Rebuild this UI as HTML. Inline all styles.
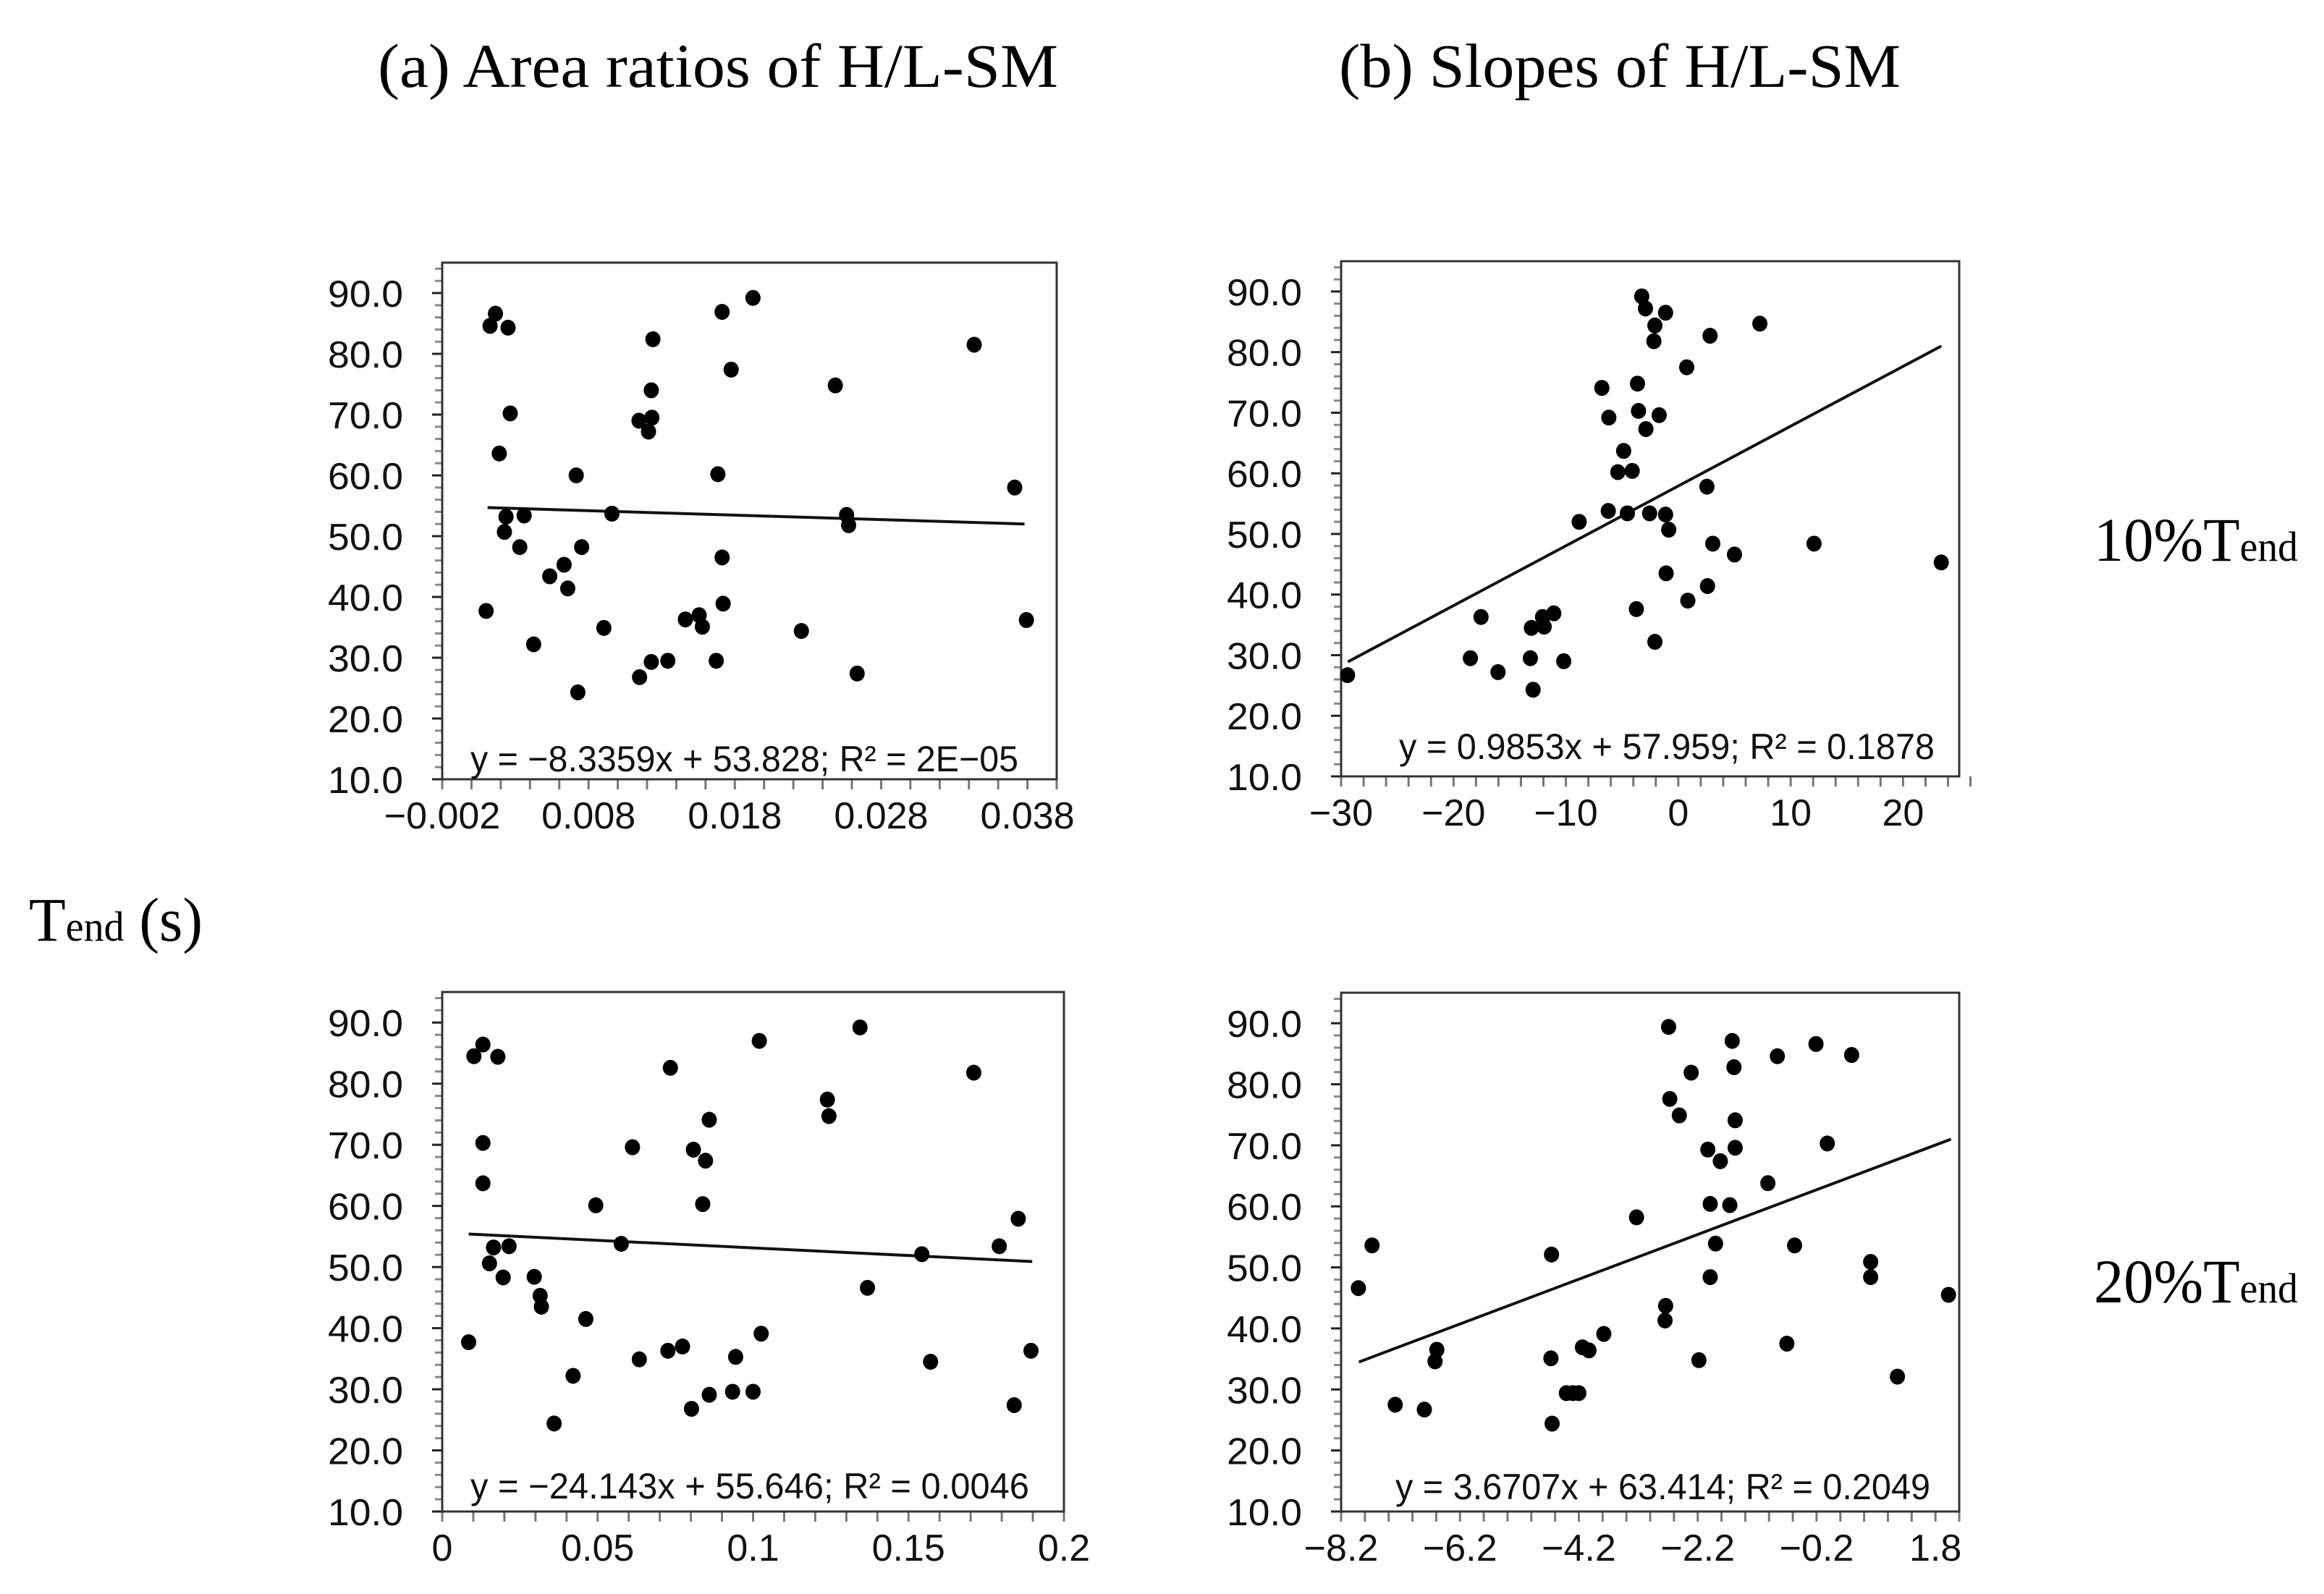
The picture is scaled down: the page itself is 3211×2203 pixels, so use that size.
<!DOCTYPE html>
<html><head><meta charset="utf-8"><style>
html,body{margin:0;padding:0;background:#fff}
svg{display:block}
.tick{font-family:"Liberation Sans Narrow","Liberation Sans",sans-serif;font-size:52px;fill:#111}
.eq{font-family:"Liberation Sans Narrow","Liberation Sans",sans-serif;font-size:50px;fill:#111}
.ser{font-family:"Liberation Serif",serif;fill:#000}
</style></head><body>
<svg id="fig" width="3211" height="2203" viewBox="0 0 3211 2203" xmlns="http://www.w3.org/2000/svg">
<rect width="3211" height="2203" fill="#fff"/>
<text class="ser" x="522" y="120" font-size="86" textLength="940" lengthAdjust="spacingAndGlyphs">(a) Area ratios of H/L-SM</text>
<text class="ser" x="1850" y="120" font-size="86" textLength="776" lengthAdjust="spacingAndGlyphs">(b) Slopes of H/L-SM</text>
<text class="ser" x="2893" y="775" font-size="86" textLength="282" lengthAdjust="spacingAndGlyphs">10%T<tspan font-size="58">end</tspan></text>
<text class="ser" x="2893" y="1800" font-size="86" textLength="282" lengthAdjust="spacingAndGlyphs">20%T<tspan font-size="58">end</tspan></text>
<text class="ser" x="40" y="1300" font-size="86" textLength="240" lengthAdjust="spacingAndGlyphs">T<tspan font-size="58">end</tspan> (s)</text>
</svg>
<script>
// Panel A (top-left)
const aX=[0.00164,0.00127,0.0025,0.00265,0.0019,0.00716,0.00236,0.0036,0.00225,0.0033,0.00753,0.00535,0.00633,0.00658,0.001,0.00425,0.00727,0.00905,0.0096,0.01145,0.01233,0.0121,0.01229,0.0124,0.01149,0.01229,0.01342,0.01462,0.01556,0.01578,0.01673,0.01684,0.01713,0.01713,0.0172,0.01775,0.01924,0.02255,0.02487,0.02564,0.02578,0.02636,0.03436,0.03713,0.03793];
const aY=[86.6,84.6,84.3,70.2,63.6,60.0,53.2,53.4,50.7,48.2,48.2,43.4,45.3,41.4,37.7,32.2,24.3,34.9,53.7,69.0,69.5,67.2,74.0,82.4,26.8,29.3,29.5,36.3,37.0,35.1,29.5,60.2,86.9,46.5,38.9,77.4,89.2,34.4,74.8,53.5,51.8,27.4,81.5,58.0,36.2];
const aTrendX=[0.0011,0.0378];
const aTrendY=[54.7,52.0];
const aXTicks=["−0.002","0.008","0.018","0.028","0.038"];
const aXTickVals=[-0.002,0.008,0.018,0.028,0.038];
// Panel B (top-right)
const bX=[-3.25,-2.92,-1.13,-2.08,2.83,7.26,-2.17,0.75,-6.8,-3.63,-3.54,-1.7,-6.18,-2.88,-4.86,-5.38,-4.1,2.55,-6.23,-4.53,-2.55,-1.13,-8.82,-0.85,3.07,5.0,12.08,23.4,-1.08,2.6,0.85,-3.73,-17.55,-11.08,-12.08,-11.93,-13.07,-2.08,-18.5,-13.16,-10.19,-16.04,-29.43,-12.92];
const bY=[89.2,87.2,86.5,84.4,82.7,84.7,81.8,77.5,74.1,74.8,70.3,69.6,69.2,67.3,63.7,60.2,60.4,57.8,53.8,53.4,53.4,53.2,52.0,50.7,48.4,46.6,48.4,45.3,43.5,41.4,39.0,37.6,36.3,36.9,36.3,34.7,34.5,32.2,29.5,29.5,29.0,27.2,26.7,24.3];
const bTrendX=[-29.4,23.4];
const bTrendY=[28.9,81.0];
const bXTicks=["−30","−20","−10","0","10","20"];
const bXTickVals=[-30,-20,-10,0,10,20];
// Panel C (bottom-left)
const cX=[0.0102,0.0131,0.0179,0.0131,0.0131,0.0494,0.0165,0.0215,0.0152,0.0196,0.0296,0.0315,0.0319,0.0462,0.0085,0.0421,0.036,0.0576,0.0612,0.0634,0.0734,0.0726,0.0773,0.0808,0.0847,0.0838,0.0859,0.0802,0.0859,0.0934,0.0944,0.1,0.102,0.1026,0.1239,0.1244,0.1344,0.1368,0.1543,0.1571,0.171,0.1792,0.1853,0.184,0.1894];
const cY=[84.5,86.4,84.4,70.3,63.7,60.1,53.2,53.4,50.6,48.3,48.4,45.3,43.5,41.5,37.7,32.2,24.4,53.8,69.6,34.9,82.6,36.3,37.0,69.2,67.4,60.3,74.1,26.8,29.1,29.6,35.3,29.6,87.0,39.1,77.4,74.7,89.2,46.6,52.1,34.5,81.8,53.4,57.9,27.4,36.3];
const cTrendX=[0.0085,0.1898];
const cTrendY=[55.4,50.9];
const cXTicks=["0","0.05","0.1","0.15","0.2"];
const cXTickVals=[0,0.05,0.1,0.15,0.2];
// Panel D (bottom-right)
const dX=[-7.91,-7.68,-7.29,-6.8,-6.59,-6.62,-4.66,-4.67,-4.65,-4.41,-4.3,-4.2,-4.14,-4.03,-3.78,-3.23,-2.69,-2.67,-2.51,-2.31,-2.74,-2.75,-2.18,-2.03,-1.82,-1.99,-1.66,-1.9,-1.99,-1.62,-1.59,-1.57,-1.57,-1.02,-0.86,-0.7,-0.57,-0.21,-0.02,0.39,0.71,0.71,1.16,2.02];
const dY=[46.6,53.6,27.5,26.7,36.5,34.6,52.1,35.1,24.4,29.4,29.4,29.4,36.9,36.4,39.1,58.2,89.4,77.6,74.9,81.9,43.7,41.3,34.8,69.3,67.4,60.4,60.2,53.9,48.4,87.1,82.8,74.1,69.6,63.8,84.6,37.5,53.6,86.6,70.3,84.8,50.9,48.4,32.1,45.5];
const dTrendX=[-7.9,2.06];
const dTrendY=[34.5,71.0];
const dXTicks=["−8.2","−6.2","−4.2","−2.2","−0.2","1.8"];
const dXTickVals=[-8.2,-6.2,-4.2,-2.2,-0.2,1.8];
const yTickLabels=["10.0","20.0","30.0","40.0","50.0","60.0","70.0","80.0","90.0"];
const yTickVals=[10,20,30,40,50,60,70,80,90];

const NS="http://www.w3.org/2000/svg";
const svg=document.getElementById('fig');
function mk(tag,attrs,parent){const e=document.createElementNS(NS,tag);for(const k in attrs)e.setAttribute(k,attrs[k]);(parent||svg).appendChild(e);return e;}

function panel(id,box,xd,xs,ys,tx,ty,xt,xtv,minorStep,eqText,eqBox){
  const g=mk('g',{});
  
  
  const X=v=>box.l+(v-xd[0])/(xd[1]-xd[0])*(box.r-box.l);
  const Y=v=>box.b-(v-10)/(95-10)*(box.b-box.t);
  for(let v=10;v<=94;v+=2){
    const major=(v%10===0);
    const t=mk('line',{x1:box.l-(major?14:10),x2:box.l,y1:Y(v),y2:Y(v),stroke:major?'#222':'#888','stroke-width':3},g);
    
    
  }
  yTickVals.forEach((v,i)=>{
    const t=mk('text',{x:box.l-54,y:Y(v)+19,'text-anchor':'end',class:'tick',textLength:104,lengthAdjust:'spacingAndGlyphs'},g);
    t.textContent=yTickLabels[i];
    
    
  });
  const n=Math.round((xd[1]-xd[0])/minorStep);
  for(let i=0;i<=n;i++){
    const v=xd[0]+i*minorStep;
    const t=mk('line',{x1:X(v),x2:X(v),y1:box.b,y2:box.b+14,stroke:'#777','stroke-width':3},g);
    
    
  }
  xtv.forEach((v,i)=>{
    const t=mk('text',{x:X(v),y:box.b+68,'text-anchor':'middle',class:'tick'},g);
    t.textContent=xt[i];
    
    
  });
  const fr=mk('rect',{x:box.l,y:box.t,width:box.r-box.l,height:box.b-box.t,fill:'none',stroke:'#333','stroke-width':3},g);
  
  
  const tl=mk('line',{x1:X(tx[0]),y1:Y(ty[0]),x2:X(tx[1]),y2:Y(ty[1]),stroke:'#111','stroke-width':4},g);
  
  
  xs.forEach((v,i)=>{
    const c=mk('ellipse',{cx:X(v),cy:Y(ys[i]),rx:10.5,ry:11,fill:'#000'},g);
    
    
  });
  const eq=mk('text',{x:eqBox[0],y:eqBox[1],class:'eq',textLength:eqBox[2],lengthAdjust:'spacingAndGlyphs'},g);
  eq.textContent=eqText;
  
  
}
panel('a',{l:611,r:1460,t:363,b:1077},[-0.002,0.040],aX,aY,aTrendX,aTrendY,aXTicks,aXTickVals,0.002,"y = −8.3359x + 53.828;  R² = 2E−05",[650,1066,757]);
panel('b',{l:1853,r:2707,t:361,b:1073},[-30,25],bX,bY,bTrendX,bTrendY,bXTicks,bXTickVals,2,"y = 0.9853x + 57.959;  R² = 0.1878",[1933,1049,740]);
panel('c',{l:611,r:1470,t:1371,b:2089},[0,0.2],cX,cY,cTrendX,cTrendY,cXTicks,cXTickVals,0.01,"y = −24.143x + 55.646;  R² = 0.0046",[650,2071,772]);
panel('d',{l:1853,r:2707,t:1372,b:2089},[-8.2,2.2],dX,dY,dTrendX,dTrendY,dXTicks,dXTickVals,0.4,"y = 3.6707x + 63.414;  R² = 0.2049",[1928,2072,739]);
</script>
</body></html>
